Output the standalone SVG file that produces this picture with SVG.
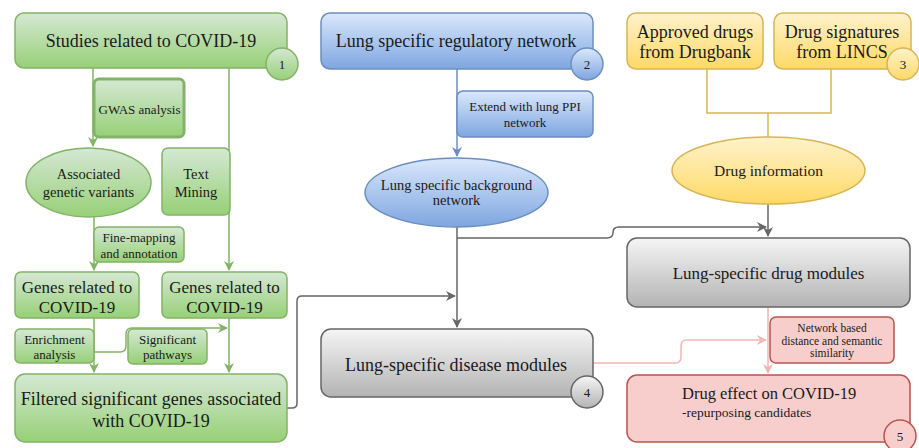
<svg xmlns="http://www.w3.org/2000/svg" width="919" height="448" viewBox="0 0 919 448">
<defs>
<linearGradient id="gG" x1="0" y1="0" x2="0" y2="1"><stop offset="0" stop-color="#d5e8d4"/><stop offset="1" stop-color="#97d077"/></linearGradient>
<linearGradient id="gB" x1="0" y1="0" x2="0" y2="1"><stop offset="0" stop-color="#dae8fc"/><stop offset="1" stop-color="#7ea6e0"/></linearGradient>
<linearGradient id="gY" x1="0" y1="0" x2="0" y2="1"><stop offset="0" stop-color="#fff2cc"/><stop offset="1" stop-color="#ffd966"/></linearGradient>
<linearGradient id="gK" x1="0" y1="0" x2="0" y2="1"><stop offset="0" stop-color="#f5f5f5"/><stop offset="1" stop-color="#b3b3b3"/></linearGradient>
<marker id="aG" viewBox="0 0 10 10" refX="9" refY="5" markerWidth="10" markerHeight="10" markerUnits="userSpaceOnUse" orient="auto"><path d="M0,0 L10,5 L0,10 L3,5 z" fill="#82b366"/></marker>
<marker id="aB" viewBox="0 0 10 10" refX="9" refY="5" markerWidth="10" markerHeight="10" markerUnits="userSpaceOnUse" orient="auto"><path d="M0,0 L10,5 L0,10 L3,5 z" fill="#6c8ebf"/></marker>
<marker id="aK" viewBox="0 0 10 10" refX="9" refY="5" markerWidth="10" markerHeight="10" markerUnits="userSpaceOnUse" orient="auto"><path d="M0,0 L10,5 L0,10 L3,5 z" fill="#666666"/></marker>
<marker id="aP" viewBox="0 0 10 10" refX="9" refY="5" markerWidth="10" markerHeight="10" markerUnits="userSpaceOnUse" orient="auto"><path d="M0,0 L10,5 L0,10 L3,5 z" fill="#f5b5b3"/></marker>
</defs>
<style>
text{font-family:"Liberation Serif","Times New Roman","DejaVu Serif",serif;fill:#1a1a1a;text-anchor:middle}
.g{fill:url(#gG);stroke:#82b366;stroke-width:1.5}
.b{fill:url(#gB);stroke:#6c8ebf;stroke-width:1.5}
.y{fill:url(#gY);stroke:#d6b656;stroke-width:1.5}
.k{fill:url(#gK);stroke:#666666;stroke-width:1.5}
.p{fill:#f8cecc;stroke:#b85450;stroke-width:1.5}
.cg{fill:none;stroke:#82b366;stroke-width:1.5}
.cb{fill:none;stroke:#6c8ebf;stroke-width:1.5}
.cy{fill:none;stroke:#d6b656;stroke-width:1.5}
.ck{fill:none;stroke:#666666;stroke-width:1.5}
.cp{fill:none;stroke:#f5b5b3;stroke-width:1.5}
.L{font-size:18px}
.M{font-size:14.5px}
.S{font-size:13px}
.N{font-size:12px}
</style>
<rect width="919" height="448" fill="#ffffff"/>

<g id="connectors">
<path class="cg" d="M93,68 V146" marker-end="url(#aG)"/>
<path class="cg" d="M94,217 V270" marker-end="url(#aG)"/>
<path class="cg" d="M94,318 V372" marker-end="url(#aG)"/>
<path class="cg" d="M229,68 V270" marker-end="url(#aG)"/>
<path class="cg" d="M229,318 V372" marker-end="url(#aG)"/>
<path class="cg" d="M94,352 H120 Q126,352 126,346 V334 Q126,328 132,328 H227" marker-end="url(#aG)"/>
<path class="cb" d="M457,69 V156" marker-end="url(#aB)"/>
<path class="cy" d="M707,69 V113 H831 V69 M768,113 V137"/>
<path class="ck" d="M457,227 V327" marker-end="url(#aK)"/>
<path class="ck" d="M287,408 H292 Q297,408 297,403 V301 Q297,296 302,296 H455" marker-end="url(#aK)"/>
<path class="ck" d="M457,238 H607 Q613,238 613,232.5 Q613,227 619,227 H766" marker-end="url(#aK)"/>
<path class="ck" d="M768,204 V236" marker-end="url(#aK)"/>
<path class="cp" d="M593,363 H675 Q681,363 681,357 V346 Q681,340 687,340 H766" marker-end="url(#aP)"/>
<path class="cp" d="M768,307 V373" marker-end="url(#aP)"/>
</g>

<g id="n1">
<rect class="g" x="15" y="13" width="272" height="55" rx="9"/>
<text class="L" x="151" y="47">Studies related to COVID-19</text>
<circle class="g" cx="282" cy="64" r="16"/>
<text class="S" x="282" y="69">1</text>
</g>
<g id="gwas">
<rect class="g" x="94" y="79" width="90" height="58" rx="5" style="stroke-width:3"/>
<text class="S" x="139.5" y="114">GWAS analysis</text>
</g>
<g id="variants">
<ellipse class="g" cx="88.5" cy="182.5" rx="62.5" ry="34.5"/>
<text class="M" x="88.5" y="179">Associated</text>
<text class="M" x="88.5" y="197">genetic variants</text>
</g>
<g id="textmining">
<rect class="g" x="162" y="148" width="68" height="67" rx="6"/>
<text class="M" x="196" y="179">Text</text>
<text class="M" x="196" y="197">Mining</text>
</g>
<g id="finemap">
<rect class="g" x="94" y="227" width="90" height="35" rx="5"/>
<text class="S" x="139" y="242">Fine-mapping</text>
<text class="S" x="139" y="258">and annotation</text>
</g>
<g id="genes1">
<rect class="g" x="15" y="272" width="124" height="46" rx="6"/>
<text class="L" x="77" y="293" style="font-size:17px">Genes related to</text>
<text class="L" x="77" y="313" style="font-size:17px">COVID-19</text>
</g>
<g id="genes2">
<rect class="g" x="162" y="272" width="125" height="46" rx="6"/>
<text class="L" x="224.5" y="293" style="font-size:17px">Genes related to</text>
<text class="L" x="224.5" y="313" style="font-size:17px">COVID-19</text>
</g>
<g id="enrich">
<rect class="g" x="15" y="329" width="79" height="34" rx="5"/>
<text class="S" x="54.5" y="344">Enrichment</text>
<text class="S" x="54.5" y="359">analysis</text>
</g>
<g id="pathways">
<rect class="g" x="128" y="329" width="79" height="35" rx="5"/>
<text class="S" x="167.5" y="344">Significant</text>
<text class="S" x="167.5" y="359">pathways</text>
</g>
<g id="filtered">
<rect class="g" x="15" y="374" width="272" height="68" rx="10"/>
<text class="L" x="151" y="405">Filtered significant genes associated</text>
<text class="L" x="151" y="427">with COVID-19</text>
</g>

<g id="n2">
<rect class="b" x="321" y="13" width="272" height="56" rx="9"/>
<text class="L" x="456" y="47">Lung specific regulatory network</text>
<circle class="b" cx="587" cy="64" r="16"/>
<text class="S" x="587" y="69">2</text>
</g>
<g id="extend">
<rect class="b" x="457" y="91" width="136" height="46" rx="6"/>
<text class="S" x="525" y="111">Extend with lung PPI</text>
<text class="S" x="525" y="127">network</text>
</g>
<g id="background">
<ellipse class="b" cx="456.5" cy="192.5" rx="91.5" ry="34.5"/>
<text class="M" x="456.5" y="190">Lung specific background</text>
<text class="M" x="456.5" y="205">network</text>
</g>

<g id="approved">
<rect class="y" x="627" y="13" width="136" height="56" rx="9"/>
<text class="L" x="695" y="38">Approved drugs</text>
<text class="L" x="695" y="58">from Drugbank</text>
</g>
<g id="n3">
<rect class="y" x="774" y="13" width="137" height="56" rx="9"/>
<text class="L" x="842" y="38">Drug signatures</text>
<text class="L" x="842" y="58">from LINCS</text>
<circle class="y" cx="903" cy="64" r="16"/>
<text class="S" x="903" y="69">3</text>
</g>
<g id="druginfo">
<ellipse class="y" cx="768.5" cy="170.5" rx="96.5" ry="33.5"/>
<text class="M" x="768.5" y="176" style="font-size:15.5px">Drug information</text>
</g>

<g id="drugmodules">
<rect class="k" x="627" y="238" width="283" height="69" rx="10"/>
<text class="L" x="768.5" y="279" style="font-size:17px">Lung-specific drug modules</text>
</g>
<g id="n4">
<rect class="k" x="321" y="329" width="272" height="68" rx="10"/>
<text class="L" x="456" y="371">Lung-specific disease modules</text>
<circle class="k" cx="587" cy="392" r="16"/>
<text class="S" x="587" y="397">4</text>
</g>
<g id="network">
<rect class="p" x="770" y="317" width="124" height="46" rx="6"/>
<text class="N" x="832" y="332" style="font-size:11.5px">Network based</text>
<text class="N" x="832" y="345" style="font-size:11.5px">distance and semantic</text>
<text class="N" x="832" y="357" style="font-size:11.5px">similarity</text>
</g>
<g id="n5">
<rect class="p" x="627" y="375" width="283" height="67" rx="10"/>
<text class="L" x="682" y="399" style="font-size:16.5px;text-anchor:start">Drug effect on COVID-19</text>
<text class="M" x="682" y="417" style="font-size:13.5px;text-anchor:start">-repurposing candidates</text>
<circle class="p" cx="900" cy="436" r="16"/>
<text class="S" x="900" y="441">5</text>
</g>
</svg>
